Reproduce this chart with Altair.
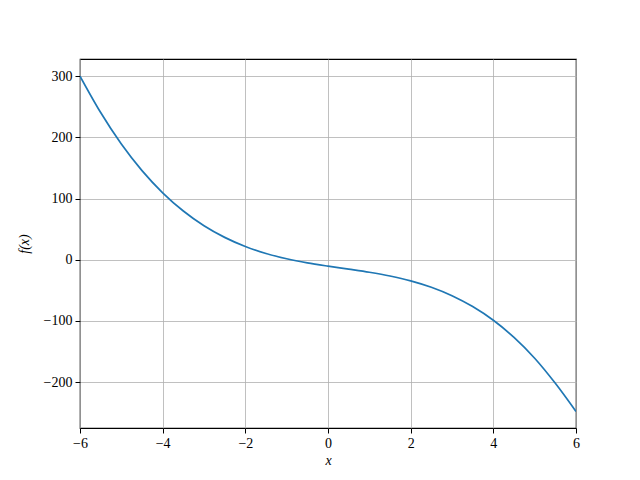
import altair as alt
import pandas as pd

xs = [-6, -5.5, -5, -4.5, -4, -3.5, -3, -2.5, -2, -1.5, -1, -0.5, 0,
      0.5, 1, 1.5, 2, 2.5, 3, 3.5, 4, 4.5, 5, 5.5, 6]
fx = [300, 240.5, 189, 145.6, 109.4, 79.6, 55.5, 36.5, 21.6, 10.2, 1.6, -5.1, -10.5,
      -15.4, -20.5, -26.6, -34.5, -45, -58.8, -76.6, -99, -127, -161, -202, -248]

x_ticks = [-6, -4, -2, 0, 2, 4, 6]
y_ticks = [-200, -100, 0, 100, 200, 300]

df = pd.DataFrame({"x": xs, "f": fx})

FONT = "'Liberation Serif', 'DejaVu Serif', serif"

chart = alt.Chart(df).mark_line(
    color="#1f77b4", strokeWidth=1.7, interpolate="monotone", clip=True
).encode(
    x=alt.X("x:Q", scale=alt.Scale(domain=[-6, 6], nice=False, zero=False),
            axis=alt.Axis(values=x_ticks, title="x", format="d")),
    y=alt.Y("f:Q", scale=alt.Scale(domain=[-275, 328], nice=False, zero=False),
            axis=alt.Axis(values=y_ticks, title="f(x)", format="d")),
).properties(
    width=496, height=369,
    autosize=alt.AutoSizeParams(type="none"),
    padding={"left": 72, "top": 51, "right": 56, "bottom": 45},
).configure_view(
    stroke="black", strokeWidth=1.2
).configure_axis(
    domain=False,
    grid=True, gridColor="#b0b0b0", gridWidth=0.8,
    tickColor="black", tickSize=5, tickWidth=1,
    labelFont=FONT, labelFontSize=14, labelColor="black", labelPadding=3,
    labelFlush=False, labelOverlap=False,
    titleFont=FONT, titleFontSize=14, titleFontStyle="italic",
    titleFontWeight="normal", titleColor="black",
).configure_axisX(
    titlePadding=3
).configure_axisY(
    titlePadding=12
)

chart.save("out.html", embed_options={"renderer": "svg", "actions": False})
